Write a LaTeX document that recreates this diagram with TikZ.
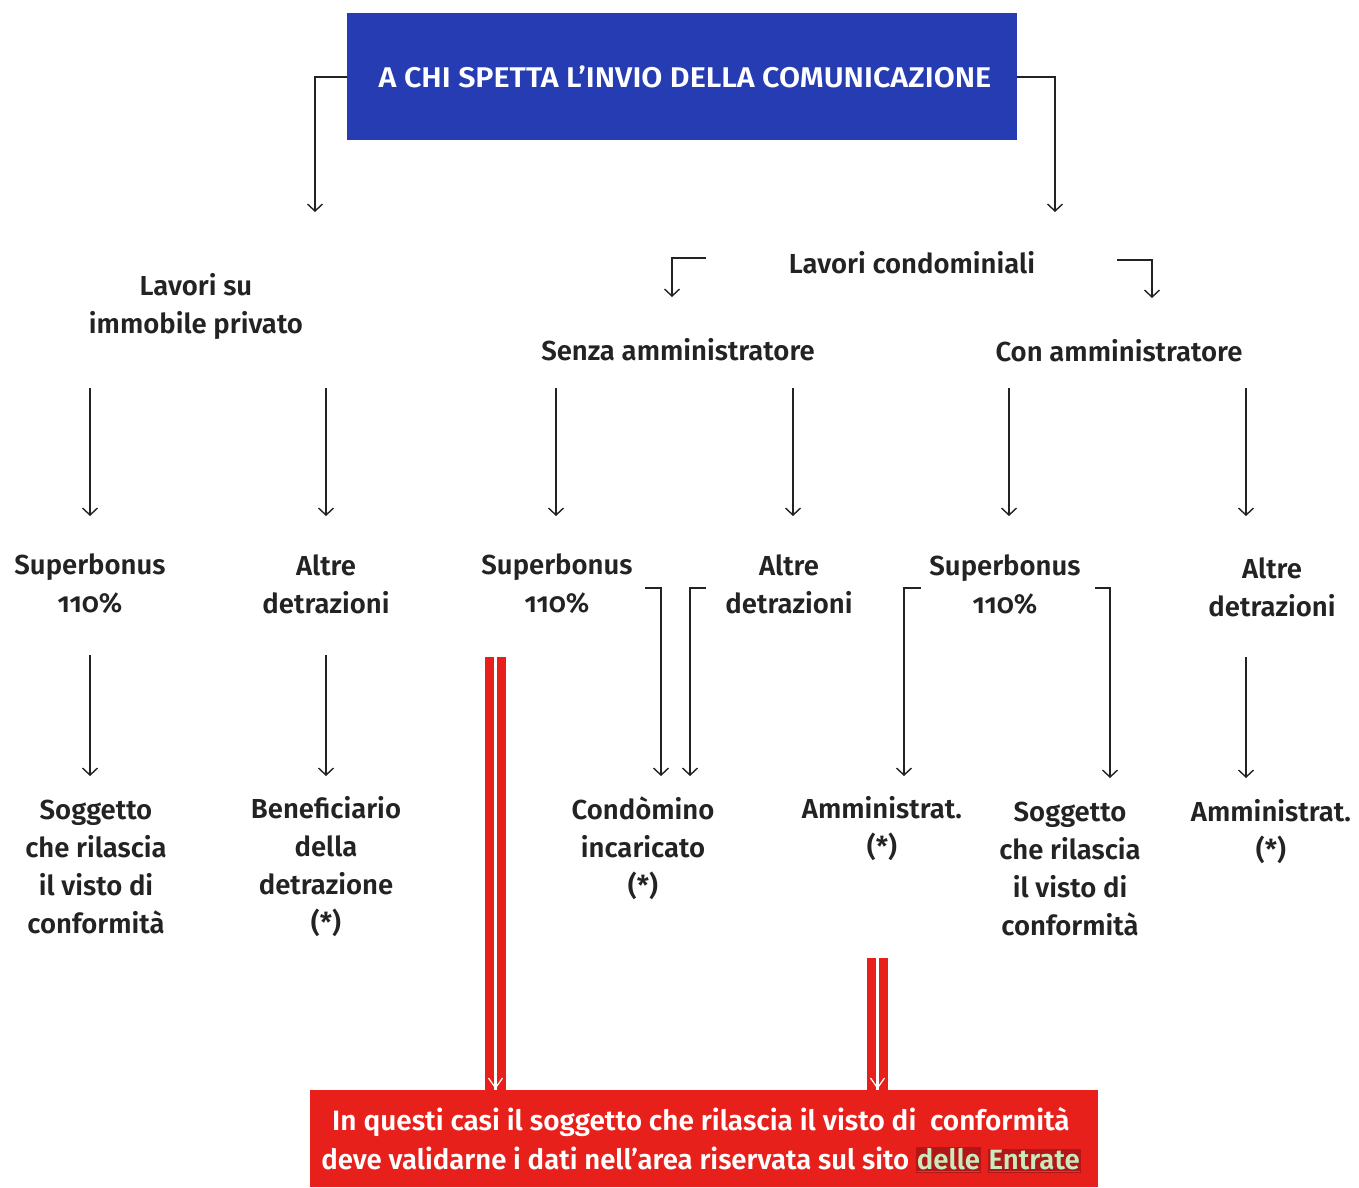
\documentclass[tikz,border=0pt]{standalone}
\usepackage{fontspec}
\setmainfont{Fira Sans}[UprightFont={* Medium}, BoldFont={* SemiBold}, Numbers=OldStyle]
\usetikzlibrary{arrows.meta}
\definecolor{hblue}{RGB}{38,60,178}
\definecolor{hred}{RGB}{232,32,28}
\definecolor{dred}{RGB}{178,22,22}
\definecolor{lgreen}{RGB}{200,235,190}
\definecolor{ugreen}{RGB}{40,150,40}
\definecolor{ink}{RGB}{35,35,35}
\newcommand{\hlword}[1]{{\fboxsep=1pt\colorbox{dred}{\color{ugreen}\underline{\textcolor{lgreen}{#1}}}}}
\begin{document}
\begin{tikzpicture}[x=1pt,y=-1pt,
  lbl/.style={align=center, inner sep=0pt, text=ink, font=\bfseries\fontsize{27.5}{38}\selectfont},
  arr/.style={draw=ink, line width=1.4pt, -{Straight Barb[length=7pt,width=15pt,line width=1.4pt]}},
  redbar/.style={fill=hred, draw=none}]
\useasboundingbox (0,0) rectangle (1359,1187);
\fill[white] (0,0) rectangle (1359,1187);

% header
\node[fill=hblue, minimum width=670pt, minimum height=127pt, inner sep=0pt, anchor=north west] (head) at (347,13) {};
\node[text=white, font=\bfseries\fontsize{28.5}{32}\selectfont] (headt) at (685,77) {\scalebox{1.07}[1]{A CHI SPETTA L'INVIO DELLA COMUNICAZIONE}};

% level 0
\node[lbl] (priv) at (196,306) {Lavori su\\immobile privato};
\node[lbl] (cond) at (912,263) {Lavori condominiali};
\node[lbl] (senza) at (678,350) {Senza amministratore};
\node[lbl] (con) at (1119,351) {Con amministratore};

\coordinate (pT) at (315,212);
\coordinate (cT) at (1055,212);
\draw[arr] (head.west |- 0,77) -| (pT);
\draw[arr] (head.east |- 0,77) -| (cT);

\coordinate (sA) at (706,258);
\coordinate (sB) at (672,297);
\coordinate (cA) at (1117,260);
\coordinate (cB) at (1152,298);
\draw[arr] (sA) -| (sB);
\draw[arr] (cA) -| (cB);

% level 1 labels
\node[lbl] (sb1) at (90,584) {Superbonus\\110\%};
\node[lbl] (ad1) at (326,584) {Altre\\detrazioni};
\node[lbl] (sb2) at (557,584) {Superbonus\\110\%};
\node[lbl] (ad2) at (789,584) {Altre\\detrazioni};
\node[lbl] (sb3) at (1005,585) {Superbonus\\110\%};
\node[lbl] (ad3) at (1272,587) {Altre\\detrazioni};

\foreach \n/\x in {a/90,b/326,c/556,d/793,e/1009,f/1246}{
  \coordinate (t\n) at (\x,388);
  \coordinate (u\n) at (\x,516);
  \draw[arr] (t\n) -- (u\n);
}

% level 2 labels
\node[lbl] (sog1) at (96,867) {Soggetto\\che rilascia\\il visto di\\conformità};
\node[lbl] (ben) at (326,867) {Beneficiario\\della\\detrazione\\(*)};
\node[lbl] (cdm) at (643,848) {Condòmino\\incaricato\\(*)};
\node[lbl] (amm1) at (882,829) {Amministrat.\\(*)};
\node[lbl] (sog2) at (1070,869) {Soggetto\\che rilascia\\il visto di\\conformità};
\node[lbl] (amm2) at (1271,832) {Amministrat.\\(*)};

\coordinate (v1a) at (90,655);  \coordinate (v1b) at (90,776);
\coordinate (v2a) at (326,655); \coordinate (v2b) at (326,776);
\coordinate (v6a) at (1246,657); \coordinate (v6b) at (1246,778);
\draw[arr] (v1a) -- (v1b);
\draw[arr] (v2a) -- (v2b);
\draw[arr] (v6a) -- (v6b);

\coordinate (k1) at (645,588); \coordinate (k1e) at (661,776);
\coordinate (k2) at (706,588); \coordinate (k2e) at (690,776);
\coordinate (k3) at (921,588); \coordinate (k3e) at (904,776);
\coordinate (k4) at (1095,588); \coordinate (k4e) at (1110,778);
\draw[arr] (k1) -| (k1e);
\draw[arr] (k2) -| (k2e);
\draw[arr] (k3) -| (k3e);
\draw[arr] (k4) -| (k4e);

% red box
\node[fill=hred, minimum width=788pt, minimum height=97pt, inner sep=0pt, anchor=north west] (rbox) at (310,1090) {};
\node[text=white, align=center, font=\bfseries\fontsize{28}{39}\selectfont, inner sep=0pt] (rtext) at (701,1140)
 {\scalebox{1.0}[1]{In questi casi il soggetto che rilascia il visto di\ \ conformità}\\
  \scalebox{0.985}[1]{deve validarne i dati nell'area riservata sul sito \hlword{delle} \hlword{Entrate}}};

% red double arrows
\coordinate (r1a) at (495.5,657);
\coordinate (r2a) at (877.5,958);
\foreach \c in {r1a,r2a}{
  \fill[redbar] ([xshift=-10.5pt]\c) rectangle ([xshift=10.5pt]\c |- rbox.north);
  \draw[white, line width=2.2pt] (\c) -- (\c |- rbox.north);
  \draw[white, line width=1.2pt] ([xshift=-7pt,yshift=12pt]\c |- rbox.north) -- ([yshift=2pt]\c |- rbox.north) -- ([xshift=7pt,yshift=12pt]\c |- rbox.north);
}
\end{tikzpicture}
\end{document}
